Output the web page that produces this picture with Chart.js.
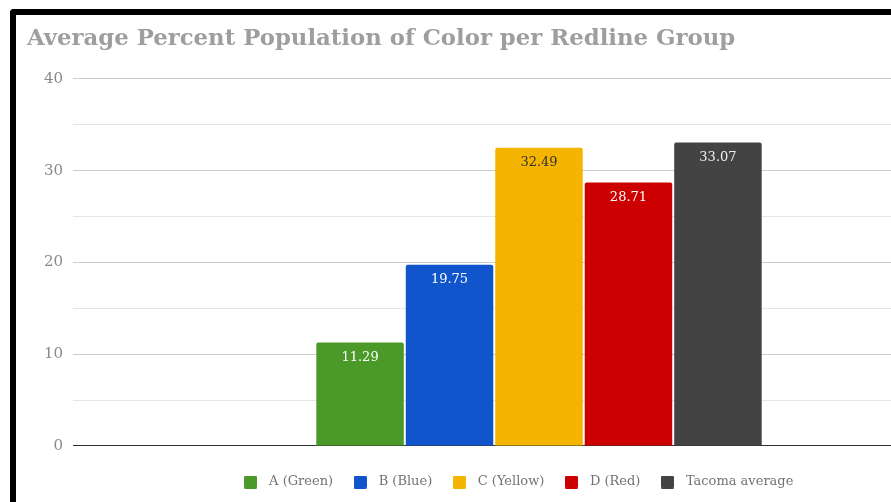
<!DOCTYPE html>
<html>
<head>
<meta charset="utf-8">
<script src="https://cdn.jsdelivr.net/npm/chart.js@4/dist/chart.umd.min.js"></script>
<style>
  html, body { margin: 0; padding: 0; background: #ffffff; overflow: hidden; width: 891px; height: 502px; }
  #frame { position: absolute; left: 10px; top: 9px; border-top: 6px solid #000; border-left: 6px solid #000; border-top-left-radius: 4px; background: #fff; }
  #c { display: block; }
</style>
</head>
<body>
<div id="frame"><canvas id="c" width="1000" height="487"></canvas></div>
<script>
const titleText = 'Average Percent Population of Color per Redline Group';
const categories = [''];
const seriesNames = ['A (Green)', 'B (Blue)', 'C (Yellow)', 'D (Red)', 'Tacoma average'];
const seriesValues = [11.29, 19.75, 32.49, 28.71, 33.07];
const seriesColors = ['#4b9a29', '#1155cc', '#f4b400', '#cc0000', '#434343'];
const labelColors = ['#ffffff', '#ffffff', '#333333', '#ffffff', '#eeeeee'];
const yMin = 0, yMax = 40, yStep = 5;
const yTickLabels = [0, 10, 20, 30, 40];

const SERIF = '"DejaVu Serif", "Liberation Serif", serif';

function makeBox(color) {
  const cv = document.createElement('canvas');
  cv.width = 13; cv.height = 13;
  const g = cv.getContext('2d');
  g.fillStyle = color;
  g.beginPath();
  if (g.roundRect) g.roundRect(0, 0, 13, 13, 1.5); else g.rect(0, 0, 13, 13);
  g.fill();
  return cv;
}
const boxImgs = seriesColors.map(makeBox);

const valueLabels = {
  id: 'valueLabels',
  afterDatasetsDraw(chart) {
    const ctx = chart.ctx;
    ctx.save();
    ctx.font = '13px ' + SERIF;
    ctx.textAlign = 'center';
    ctx.textBaseline = 'middle';
    chart.data.datasets.forEach((ds, i) => {
      const meta = chart.getDatasetMeta(i);
      meta.data.forEach((el, j) => {
        ctx.fillStyle = labelColors[i];
        ctx.fillText(String(ds.data[j]), el.x, el.y + 15);
      });
    });
    ctx.restore();
  }
};

const datasets = seriesNames.map((name, i) => ({
  label: name,
  data: [seriesValues[i]],
  backgroundColor: seriesColors[i],
  borderWidth: 0,
  borderRadius: { topLeft: 2, topRight: 2, bottomLeft: 0, bottomRight: 0 },
  borderSkipped: 'bottom',
  categoryPercentage: 0.48,
  barPercentage: 0.978
}));

new Chart(document.getElementById('c'), {
  type: 'bar',
  data: { labels: categories, datasets },
  plugins: [valueLabels],
  options: {
    responsive: false,
    animation: false,
    devicePixelRatio: 1,
    layout: { padding: { top: 0, left: 11, right: 11, bottom: 3.5 } },
    plugins: {
      title: {
        display: true,
        text: titleText,
        align: 'start',
        color: '#9e9e9e',
        font: { family: SERIF, size: 22.8, weight: 'bold' },
        padding: { top: 10, bottom: 26.6 }
      },
      legend: {
        position: 'bottom',
        labels: {
          usePointStyle: true,
          pointStyleWidth: 24,
          boxHeight: 13,
          padding: 15,
          color: '#737373',
          font: { family: SERIF, size: 13 },
          generateLabels(chart) {
            const items = Chart.defaults.plugins.legend.labels.generateLabels(chart);
            items.forEach((it, i) => { it.pointStyle = boxImgs[i]; });
            return items;
          }
        }
      },
      tooltip: { enabled: false }
    },
    scales: {
      x: {
        grid: { display: false },
        border: { display: false },
        ticks: { display: false },
        afterFit(s) { s.height = 14.5; }
      },
      y: {
        min: yMin, max: yMax,
        border: { display: false },
        grid: {
          drawTicks: false,
          color(c) {
            const v = c.tick.value;
            if (v === 0) return '#333333';
            return yTickLabels.includes(v) ? '#cccccc' : '#e6e6e6';
          }
        },
        ticks: {
          stepSize: yStep,
          padding: 10,
          color: '#8a8a8a',
          font: { family: SERIF, size: 15 },
          callback(v) { return yTickLabels.includes(v) ? String(v) : ''; }
        },
        afterFit(s) { s.width = 46; }
      }
    }
  }
});
</script>
</body>
</html>
